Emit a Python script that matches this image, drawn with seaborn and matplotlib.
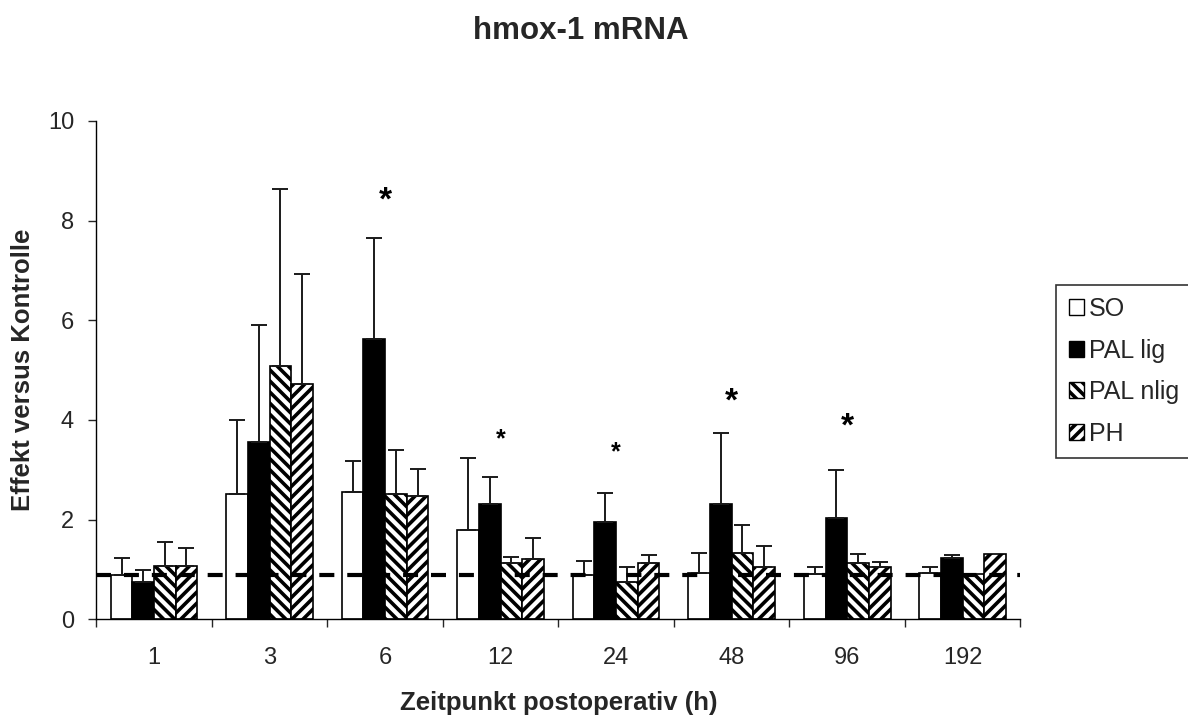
import numpy as np
import pandas as pd
import seaborn as sns
import matplotlib
matplotlib.use("Agg")
import matplotlib.pyplot as plt
from matplotlib.patches import Patch

timepoints = ["1", "3", "6", "12", "24", "48", "96", "192"]
groups = ["SO", "PAL lig", "PAL nlig", "PH"]

so_mean = [0.88, 2.52, 2.56, 1.78, 0.88, 0.92, 0.90, 0.92]
so_top = [1.22, 4.00, 3.17, 3.23, 1.16, 1.33, 1.05, 1.05]
lig_mean = [0.74, 3.55, 5.62, 2.32, 1.96, 2.31, 2.03, 1.22]
lig_top = [0.98, 5.90, 7.65, 2.85, 2.54, 3.73, 3.00, 1.28]
nlig_mean = [1.06, 5.08, 2.52, 1.12, 0.75, 1.33, 1.12, 0.90]
nlig_top = [1.55, 8.63, 3.40, 1.25, 1.04, 1.90, 1.30, 0.90]
ph_mean = [1.06, 4.72, 2.48, 1.20, 1.13, 1.05, 1.05, 1.30]
ph_top = [1.43, 6.93, 3.02, 1.62, 1.28, 1.47, 1.14, 1.30]

control_level = 0.88
star_x = ["6", "12", "24", "48", "96"]
star_y = [8.4, 3.6, 3.35, 4.35, 3.85]
star_size = [24, 18, 18, 24, 24]

means = [so_mean, lig_mean, nlig_mean, ph_mean]
tops = [so_top, lig_top, nlig_top, ph_top]
rows = []
for g, m in zip(groups, means):
    for t, v in zip(timepoints, m):
        rows.append({"Zeitpunkt": t, "Gruppe": g, "Wert": v})
df = pd.DataFrame(rows)

sns.set_style("white")
plt.rcParams["font.family"] = ["Liberation Sans", "DejaVu Sans"]
plt.rcParams["hatch.linewidth"] = 2.6

fig = plt.figure(figsize=(11.88, 7.15), dpi=100)
ax = fig.add_axes([0.081, 0.134, 0.778, 0.697])

palette = {"SO": "white", "PAL lig": "black", "PAL nlig": "white", "PH": "white"}
sns.barplot(data=df, x="Zeitpunkt", y="Wert", hue="Gruppe", order=timepoints,
            hue_order=groups, palette=palette, width=0.75, errorbar=None,
            edgecolor="black", linewidth=1.2, ax=ax, legend=False, saturation=1)

hatches = {"SO": "", "PAL lig": "", "PAL nlig": "\\\\\\", "PH": "///"}
for container, g, m, tp in zip(ax.containers, groups, means, tops):
    for bar, mv, tv in zip(container.patches, m, tp):
        bar.set_hatch(hatches[g])
        bar.set_edgecolor("black")
        xc = bar.get_x() + bar.get_width() / 2
        if tv > mv + 0.005:
            ax.errorbar([xc], [mv], yerr=[[0], [tv - mv]], fmt="none",
                        ecolor="#1a1a1a", elinewidth=1.4, capsize=5.5, capthick=1.4, zorder=5)

ax.axhline(control_level, color="black", linestyle=(0, (3.6, 3.1)), linewidth=3, zorder=6)

for sx, sy, ss in zip(star_x, star_y, star_size):
    ax.text(timepoints.index(sx), sy, "*", ha="center", va="center",
            fontsize=ss, fontweight="bold", color="black")

ax.set_ylim(0, 10)
ax.set_xlim(-0.5, len(timepoints) - 0.5)
ax.set_yticks([0, 2, 4, 6, 8, 10])
ax.tick_params(axis="y", labelsize=17, length=6, width=1, direction="out", left=True, pad=10)
ax.set_xticks(np.arange(len(timepoints)))
ax.set_xticklabels(timepoints)
ax.set_xticks(np.arange(len(timepoints) + 1) - 0.5, minor=True)
ax.tick_params(axis="x", which="major", length=0, labelsize=17, pad=20)
ax.tick_params(axis="x", which="minor", length=6, width=1, direction="out", bottom=True)
for s in ["top", "right"]:
    ax.spines[s].set_visible(False)
for s in ["left", "bottom"]:
    ax.spines[s].set_color("black")
    ax.spines[s].set_linewidth(1)

ax.set_xlabel("Zeitpunkt postoperativ (h)", fontsize=18.5, fontweight="bold", labelpad=16)
ax.set_ylabel("Effekt versus Kontrolle", fontsize=18.5, fontweight="bold", labelpad=9)
fig.suptitle("hmox-1 mRNA", x=0.489, y=0.977, fontsize=22.5, fontweight="bold")

handles = [Patch(facecolor=palette[g], edgecolor="black", hatch=hatches[g], linewidth=1) for g in groups]
leg = fig.legend(handles, groups, loc="upper left", bbox_to_anchor=(0.889, 0.602),
                 fontsize=18, frameon=True, fancybox=False, edgecolor="black",
                 handlelength=0.6, handleheight=0.6, handletextpad=0.2,
                 labelspacing=0.7, borderpad=0.5, borderaxespad=0)
leg.get_frame().set_linewidth(1.2)

fig.savefig("out.png", dpi=100, facecolor="white")
